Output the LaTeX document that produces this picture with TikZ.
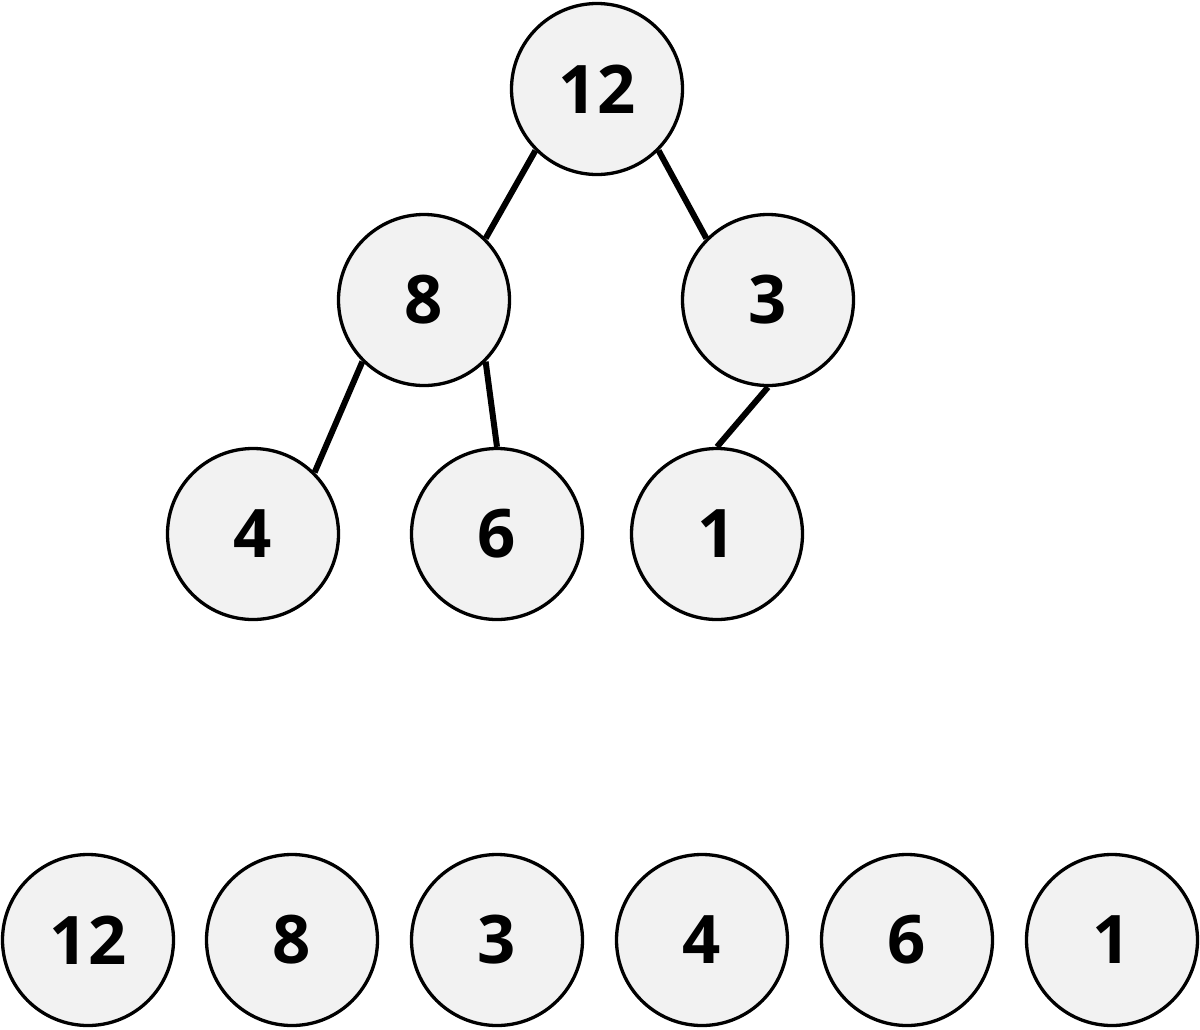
\documentclass[tikz,border=0pt]{standalone}
\usepackage{fontspec}
\setmainfont{Open Sans}
\begin{document}
\begin{tikzpicture}[x=1pt,y=-1pt,
  hnode/.style={circle,draw=black,line width=3.3pt,fill=nodegray,minimum size=171pt,inner sep=0pt,
    font=\fontsize{67}{70}\selectfont\bfseries},
  edge/.style={line width=6pt,draw=black}]
\definecolor{nodegray}{HTML}{F2F2F2}
\useasboundingbox (0,0) rectangle (1200,1029);
\node[hnode] (r) at (597,89) {12};
\node[hnode] (a) at (424,300) {8};
\node[hnode] (b) at (768,300) {3};
\node[hnode] (c) at (253,534) {4};
\node[hnode] (d) at (497,534) {6};
\node[hnode] (e) at (717,534) {1};
\draw[edge] (r.225) -- (a.45);
\draw[edge] (r.-45) -- (b.135);
\draw[edge] (a.225) -- (c.45);
\draw[edge] (a.-45) -- (d.90);
\draw[edge] (b.-90) -- (e.90);
\node[hnode] (l1) at (88,940) {12};
\node[hnode] (l2) at (292,940) {8};
\node[hnode] (l3) at (497,940) {3};
\node[hnode] (l4) at (702,940) {4};
\node[hnode] (l5) at (907,940) {6};
\node[hnode] (l6) at (1112,940) {1};
\end{tikzpicture}
\end{document}
